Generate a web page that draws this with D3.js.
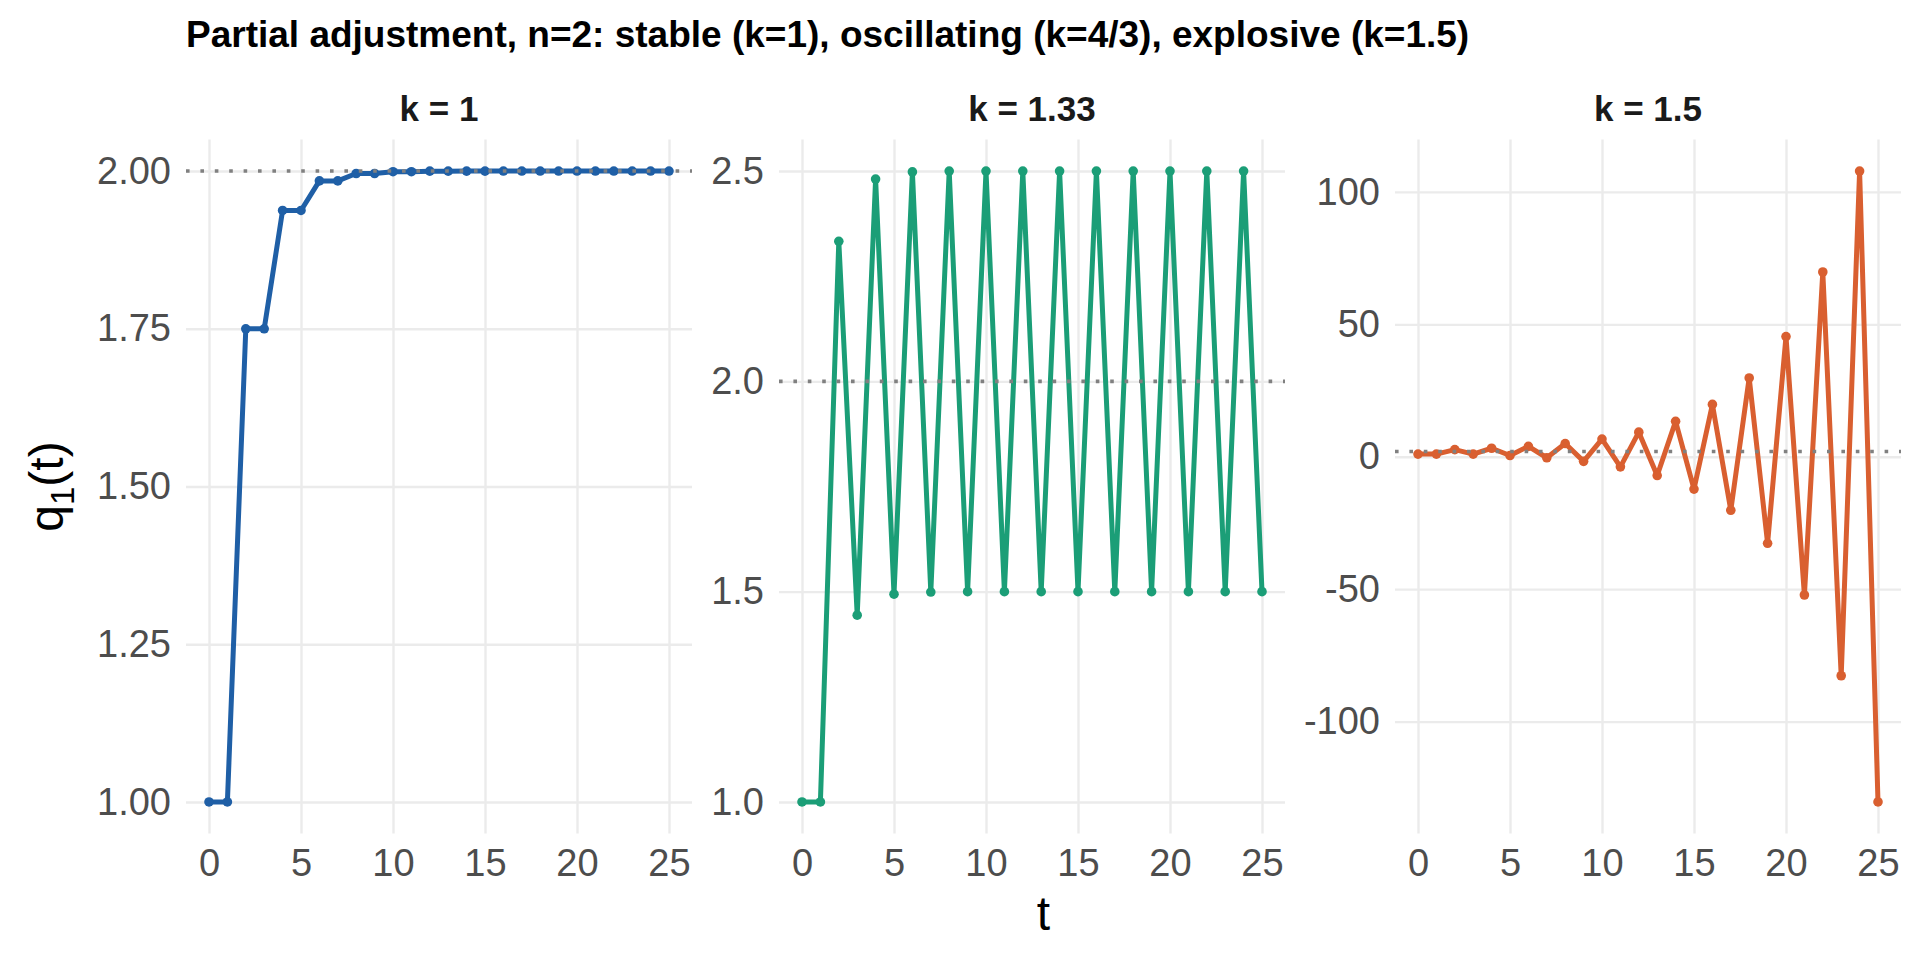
<!DOCTYPE html>
<html>
<head>
<meta charset="utf-8">
<script src="https://cdn.jsdelivr.net/npm/d3@7"></script>
<style>
  body { margin: 0; background: #fff; }
  svg { font-family: "Liberation Sans", Arial, sans-serif; }
</style>
</head>
<body>
<svg id="chart" width="1920" height="960"></svg>
<script>
// Data
var tValues = [0, 1, 2, 3, 4, 5, 6, 7, 8, 9, 10, 11, 12, 13, 14, 15, 16, 17, 18, 19, 20, 21, 22, 23, 24, 25]

var q1Stable = [1, 1, 1.75, 1.75, 1.9375, 1.9375, 1.9844, 1.9844, 1.9961, 1.9961,
                1.999, 1.999, 1.9998, 1.9998, 1.99994, 1.99994, 2, 2, 2, 2, 2, 2, 2, 2, 2, 2]

var q1Oscillating = [1, 1, 2.333, 1.444, 2.481, 1.494, 2.498, 1.499, 2.5, 1.5,
                     2.5, 1.5, 2.5, 1.5, 2.5, 1.5, 2.5, 1.5, 2.5, 1.5, 2.5, 1.5, 2.5, 1.5, 2.5, 1.5]

var q1Explosive = [1, 1, 2.69, 1, 3.21, 0.47, 3.91, -0.38, 4.98, -1.73,
                   6.66, -3.82, 9.28, -7.09, 13.37, -12.21, 19.76, -20.2, 29.76, -32.69,
                   45.37, -52.21, 69.76, -82.7, 107.88, -130.35]

var panelLabels = ['k = 1', 'k = 1.33', 'k = 1.5']
var panelColors = ['#1f5fa6', '#1b9e77', '#d95f30']
var equilibrium = 2

var xTicks = [0, 5, 10, 15, 20, 25]
var yTicksStable = [1, 1.25, 1.5, 1.75, 2]
var yTicksOscillating = [1, 1.5, 2, 2.5]
var yTicksExplosive = [-100, -50, 0, 50, 100]
var yFormats = ['.2f', '.1f', 'd']

var chartTitle = 'Partial adjustment, n=2: stable (k=1), oscillating (k=4/3), explosive (k=1.5)'

// Layout
var panel_left   = [186, 779, 1395]
var panel_width  = 506
var panel_top    = 139.5
var panel_height = 694

var series = [q1Stable, q1Oscillating, q1Explosive]
var yTickSets = [yTicksStable, yTicksOscillating, yTicksExplosive]

var svg = d3.select('#chart')

// Title
svg.append('text')
    .attr('x', 186)
    .attr('y', 47)
    .attr('font-size', 37)
    .attr('font-weight', 'bold')
    .attr('fill', '#000')
    .text(chartTitle)

// expand like ggplot (5% each side)
function expanded(ext) {
    var pad = (ext[1] - ext[0]) * 0.05
    return [ext[0] - pad, ext[1] + pad]
}

series.forEach(function(values, i) {
    var data = tValues.map(function(t, j) { return {t: t, q: values[j]} })

    var x = d3.scaleLinear()
        .domain(expanded(d3.extent(tValues)))
        .range([0, panel_width])
    var yExt = d3.extent(values.concat([equilibrium]))
    var y = d3.scaleLinear()
        .domain(expanded(yExt))
        .range([panel_height, 0])

    var g = svg.append('g')
        .attr('transform', 'translate(' + panel_left[i] + ',' + panel_top + ')')

    // Grid lines
    var gx = g.append('g')
        .call(d3.axisBottom(x).tickValues(xTicks).tickSize(panel_height).tickFormat(''))
    var gy = g.append('g')
        .call(d3.axisLeft(y).tickValues(yTickSets[i]).tickSize(-panel_width).tickFormat(''))
    g.selectAll('.domain').remove()
    g.selectAll('.tick line').attr('stroke', '#ebebeb').attr('stroke-width', 2.4)

    // Tick labels
    var fmt = d3.format(yFormats[i])
    var ax = g.append('g')
        .attr('transform', 'translate(0,' + panel_height + ')')
        .call(d3.axisBottom(x).tickValues(xTicks).tickSize(0).tickPadding(16))
    var ay = g.append('g')
        .call(d3.axisLeft(y).tickValues(yTickSets[i]).tickSize(0).tickPadding(15)
              .tickFormat(function(d) { return fmt(d).replace('\u2212', '-') }))
    ax.select('.domain').remove()
    ay.select('.domain').remove()
    g.selectAll('.tick text')
        .attr('font-size', 38)
        .attr('fill', '#4d4d4d')
        .attr('font-family', '"Liberation Sans", Arial, sans-serif')

    // Series line and points
    var line = d3.line()
        .x(function(d) { return x(d.t) })
        .y(function(d) { return y(d.q) })
    g.append('path')
        .datum(data)
        .attr('d', line)
        .attr('fill', 'none')
        .attr('stroke', panelColors[i])
        .attr('stroke-width', 5)
        .attr('stroke-linejoin', 'round')
    g.selectAll('circle.pt')
        .data(data)
        .enter()
        .append('circle')
            .attr('class', 'pt')
            .attr('cx', function(d) { return x(d.t) })
            .attr('cy', function(d) { return y(d.q) })
            .attr('r', 4.8)
            .attr('fill', panelColors[i])

    // Equilibrium reference (dotted)
    g.append('line')
        .attr('x1', 0)
        .attr('x2', panel_width)
        .attr('y1', y(equilibrium))
        .attr('y2', y(equilibrium))
        .attr('stroke', '#808080')
        .attr('stroke-width', 3.6)
        .attr('stroke-dasharray', '3.6 10.8')

    // Strip label
    g.append('text')
        .attr('x', panel_width / 2)
        .attr('y', 121 - panel_top)
        .attr('text-anchor', 'middle')
        .attr('font-size', 35)
        .attr('font-weight', 'bold')
        .attr('fill', '#1a1a1a')
        .text(panelLabels[i])
})

// Axis titles
svg.append('text')
    .attr('x', (186 + 1395 + panel_width) / 2)
    .attr('y', 930)
    .attr('text-anchor', 'middle')
    .attr('font-size', 48)
    .attr('fill', '#000')
    .text('t')

var ylab = svg.append('text')
    .attr('transform', 'translate(63,' + (panel_top + panel_height / 2) + ') rotate(-90)')
    .attr('text-anchor', 'middle')
    .attr('font-size', 48)
    .attr('fill', '#000')
ylab.append('tspan').text('q')
ylab.append('tspan').attr('font-size', 33).attr('dy', 11).text('1')
ylab.append('tspan').attr('dy', -11).text('(t)')
</script>
</body>
</html>
